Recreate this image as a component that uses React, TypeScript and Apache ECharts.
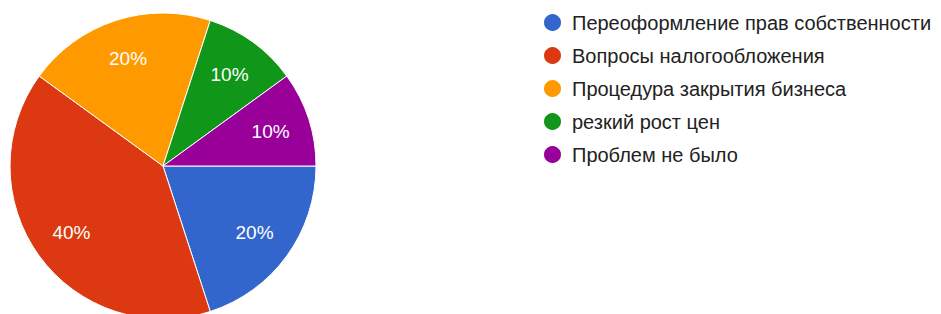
import React, { useEffect, useRef } from "react";
import * as echarts from "echarts";

const categories = [
  "Переоформление прав собственности",
  "Вопросы налогообложения",
  "Процедура закрытия бизнеса",
  "резкий рост цен",
  "Проблем не было",
];
const values = [20, 40, 20, 10, 10];
const colors = ["#3366cc", "#dc3912", "#ff9900", "#109618", "#990099"];

export default function App() {
  const ref = useRef<HTMLDivElement>(null);
  useEffect(() => {
    if (!ref.current) return;
    const chart = echarts.init(ref.current, undefined, { renderer: "svg" });
    const data = categories.map((name, i) => ({
      name,
      value: values[i],
      itemStyle: { color: colors[i] },
    }));
    const center = [163, 166];
    const R = 153;
    chart.setOption({
      animation: false,
      legend: {
        orient: "vertical",
        left: 542,
        top: 12,
        padding: 0,
        icon: "circle",
        itemWidth: 29,
        itemHeight: 19,
        itemGap: 12,
        selectedMode: false,
        data: categories,
        textStyle: {
          fontFamily: "'Liberation Sans', Arial, sans-serif",
          fontSize: 20,
          color: "#222",
          lineHeight: 20,
        },
      },
      series: [
        {
          type: "pie",
          center,
          radius: [0, R],
          startAngle: 0,
          clockwise: true,
          data,
          label: { show: false },
          labelLine: { show: false },
          itemStyle: { borderColor: "#fff", borderWidth: 1 },
          emphasis: { disabled: true },
        },
        {
          type: "pie",
          center,
          radius: [R * 0.44, R],
          startAngle: 0,
          clockwise: true,
          silent: true,
          data: categories.map((name, i) => ({ name, value: values[i] })),
          itemStyle: { color: "rgba(0,0,0,0)" },
          label: {
            show: true,
            position: "inside",
            formatter: (p: any) => `${p.percent.toFixed(0)}%`,
            color: "#fff",
            fontSize: 19,
            fontFamily: "'Liberation Sans', Arial, sans-serif",
          },
          labelLine: { show: false },
          emphasis: { disabled: true },
        },
      ],
    });
    return () => chart.dispose();
  }, []);
  return (
    <div
      ref={ref}
      style={{ position: "fixed", left: 0, top: 0, width: 941, height: 314, background: "#fff" }}
    />
  );
}
